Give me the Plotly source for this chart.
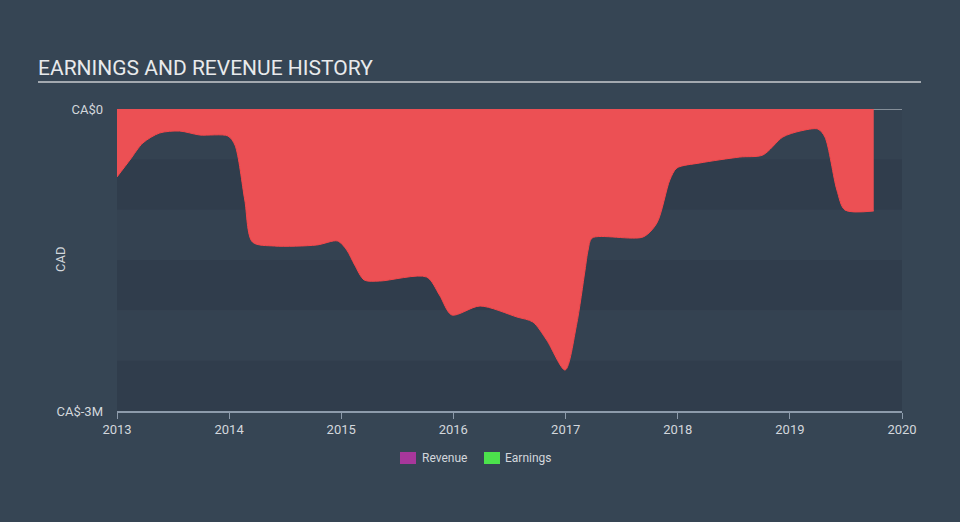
import plotly.graph_objects as go

# Earnings (CAD)
dates = ["2013-01-01", "2013-02-12", "2013-03-26", "2013-05-20", "2013-07-24", "2013-09-27",
         "2013-12-28", "2014-01-20", "2014-02-21", "2014-03-18", "2014-05-29", "2014-10-13",
         "2014-12-20", "2015-01-19", "2015-02-14", "2015-03-17", "2015-05-06", "2015-10-06",
         "2015-11-17", "2015-12-27", "2016-03-28", "2016-07-26", "2016-09-16", "2016-10-31",
         "2016-12-30", "2017-02-05", "2017-03-05", "2017-03-15", "2017-03-28",
         "2017-09-10", "2017-10-25", "2017-12-06", "2017-12-29", "2018-03-14", "2018-07-22",
         "2018-10-05", "2018-12-09", "2019-02-03", "2019-04-02", "2019-04-25", "2019-06-03",
         "2019-06-29", "2019-10-01"]
earnings = [-0.675, -0.507, -0.338, -0.238, -0.219, -0.258,
            -0.268, -0.358, -0.904, -1.321, -1.361, -1.351,
            -1.311, -1.401, -1.550, -1.699, -1.709, -1.669,
            -1.848, -2.046, -1.957, -2.066, -2.116, -2.295,
            -2.593, -2.150, -1.599, -1.401, -1.281,
            -1.271, -1.132, -0.705, -0.586, -0.536, -0.477,
            -0.457, -0.278, -0.219, -0.199, -0.278, -0.805,
            -1.003, -1.013]
earnings = [v * 1e6 for v in earnings]

y_tick_vals = [0, -3e6]
y_tick_text = ["CA$0", "CA$-3M"]
x_tick_vals = ["2013-01-01", "2014-01-01", "2015-01-01", "2016-01-01",
               "2017-01-01", "2018-01-01", "2019-01-01", "2020-01-01"]
x_tick_text = ["2013", "2014", "2015", "2016", "2017", "2018", "2019", "2020"]
band_edges = [0, -0.5e6, -1e6, -1.5e6, -2e6, -2.5e6, -3e6]
legend_names = ["Revenue", "Earnings"]
legend_colors = ["#a8379b", "#4ce24c"]

# plot-area pixel geometry helpers (figure is 960x522)
PL, PR, PT, PB = 117, 902, 109, 411
def px(x):
    return (x - PL) / (PR - PL)
def py(y):
    return (PB - y) / (PB - PT)

fig = go.Figure()

fig.add_trace(go.Scatter(
    x=dates, y=earnings, mode="lines", fill="tozeroy",
    fillcolor="#ec5054", line=dict(color="#f4484b", width=1, shape="spline", smoothing=0.8),
    showlegend=False, hoverinfo="skip"))

shapes = []
band_colors = ["#344251", "#303d4c"]
for i in range(len(band_edges) - 1):
    shapes.append(dict(type="rect", xref="paper", yref="y", x0=0, x1=1,
                       y0=band_edges[i + 1], y1=band_edges[i],
                       fillcolor=band_colors[i % 2], line=dict(width=0), layer="below"))
shapes.append(dict(type="line", xref="paper", yref="y", x0=0, x1=1, y0=0, y1=0,
                   line=dict(color="#a0a8b0", width=1.5), layer="below"))
# title underline
shapes.append(dict(type="line", xref="paper", yref="paper", x0=px(38), x1=px(921),
                   y0=py(82), y1=py(82), line=dict(color="#a3a9b0", width=2)))

annotations = [dict(text="CAD", textangle=-90, xref="paper", yref="paper",
                    x=px(60), y=0.5, xanchor="center", yanchor="middle", showarrow=False,
                    font=dict(size=13, color="#d3d7dc"))]

# legend (custom, matching the reference spacing)
legend_marker_x = [400, 484]
legend_text_x = [420, 503]
for name, col, mx, tx in zip(legend_names, legend_colors, legend_marker_x, legend_text_x):
    shapes.append(dict(type="rect", xref="paper", yref="paper",
                       x0=px(mx), x1=px(mx + 16), y0=py(464), y1=py(452),
                       fillcolor=col, line=dict(width=0)))
    annotations.append(dict(text=name, xref="paper", yref="paper", x=px(tx), y=py(458),
                            xanchor="left", yanchor="middle", showarrow=False,
                            font=dict(size=12, color="#d3d7dc")))

fig.update_layout(
    width=960, height=522,
    margin=dict(l=PL, r=960 - PR, t=PT, b=522 - PB),
    paper_bgcolor="#364554", plot_bgcolor="#364554",
    font=dict(family="Roboto", color="#d3d7dc", size=13),
    title=dict(text="EARNINGS AND REVENUE HISTORY", x=38 / 960, xanchor="left",
               xref="container", y=1 - 68 / 522, yref="container", yanchor="middle",
               font=dict(family="Roboto", size=21, color="#e8eaec")),
    xaxis=dict(type="date", range=["2013-01-01", "2020-01-01"], tickvals=x_tick_vals,
               ticktext=x_tick_text, showgrid=False, zeroline=False, showline=True,
               linecolor="#8d9bab", linewidth=1.5, ticks="outside", ticklen=6,
               tickcolor="#8d9bab", tickfont=dict(size=13, color="#d3d7dc")),
    yaxis=dict(range=[-3e6, 0], tickvals=y_tick_vals, ticktext=y_tick_text,
               showgrid=False, zeroline=False, showline=False, ticklabelstandoff=13,
               tickfont=dict(size=13, color="#d3d7dc")),
    shapes=shapes,
    annotations=annotations,
    showlegend=False,
)

fig.write_html("out.html", post_script="document.body.style.margin='0';",
               config={"displayModeBar": False})
